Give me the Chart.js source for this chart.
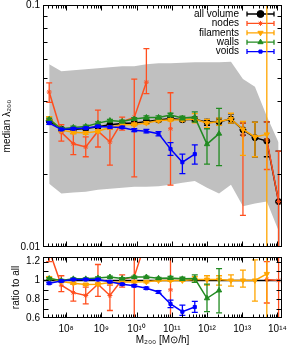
<!DOCTYPE html>
<html>
<head>
<meta charset="utf-8">
<script src="https://cdn.jsdelivr.net/npm/chart.js@4/dist/chart.umd.min.js"></script>
<style>
  html, body { margin: 0; padding: 0; background: #fff; }
  #wrap { position: relative; width: 287px; height: 347px; }
  canvas { position: absolute; left: 0; }
</style>
</head>
<body>
<div id="wrap">
  <canvas id="topc" width="287" height="252" style="top:0"></canvas>
  <canvas id="botc" width="287" height="95" style="top:252px"></canvas>
</div>
<script>
// ---------------- data ----------------
const mass = [3.3e7, 7.3e7, 1.6e8, 3.6e8, 8.0e8, 1.75e9, 3.9e9, 8.6e9, 1.9e10, 4.2e10,
              9.2e10, 2.0e11, 4.5e11, 1.0e12, 2.2e12, 4.8e12, 1.05e13, 2.3e13, 5.0e13, 1.08e14];

const seriesNames = ['all volume', 'nodes', 'filaments', 'walls', 'voids'];

const bandHi = [0.0569,0.0533,0.0538,0.0543,0.0548,0.0553,0.0558,0.0558,0.0569,0.0574,
                0.0574,0.0577,0.0580,0.0580,0.0580,0.0583,0.0494,0.0459,0.0347,0.0270];
const bandLo = [0.01824,0.01662,0.01678,0.01693,0.01725,0.0174,0.01757,0.01774,0.01774,0.01783,
                0.01807,0.01841,0.01876,0.01757,0.01662,0.01807,0.01472,0.01514,0.01543,0.01166];

const allVol   = [0.0332,0.0307,0.0306,0.0309,0.0314,0.0320,0.0324,0.0325,0.0330,0.0335,0.0340,0.0336,0.0337,0.0328,0.0329,0.0338,0.0305,0.0283,0.0274,0.0154];
const allVolLo = [0.0327,0.0303,0.0302,0.0305,0.0310,0.0316,0.0320,0.0320,0.0325,0.0330,0.0334,0.0330,0.0330,0.0318,0.0318,0.0325,0.0290,0.0236,0.0236,0.0098];
const allVolHi = [0.0337,0.0311,0.0310,0.0313,0.0318,0.0324,0.0328,0.0330,0.0335,0.0340,0.0346,0.0342,0.0344,0.0337,0.0340,0.0355,0.0325,0.0328,0.0329,0.0249];

const nodes   = [0.0437,0.0298,0.0267,0.0259,0.0301,0.0272,0.0330,0.0343,0.0480,null,0.0308,null,null,null,null,null,0.0290,null,0.0277,0.0154];
const nodesLo = [0.0396,0.0274,0.0241,0.0236,0.0259,0.0218,0.0304,0.0195,0.0430,null,0.0180,null,null,null,null,null,0.0135,null,0.0209,0.0070];
const nodesHi = [0.0477,0.0320,0.0294,0.0285,0.0368,0.0306,0.0344,0.0494,0.0660,null,0.0434,null,null,null,null,null,0.0325,null,0.0329,0.0249];

const fil   = [0.0341,0.0304,0.0298,0.0296,0.0301,0.0312,0.0320,0.0321,0.0325,0.0333,0.0335,0.0336,0.0338,0.0325,0.0330,0.0338,0.0306,0.0285,0.0292,null];
const filLo = [0.0336,0.0300,0.0294,0.0292,0.0297,0.0308,0.0316,0.0317,0.0321,0.0329,0.0331,0.0331,0.0326,0.0311,0.0318,0.0325,0.0239,0.0236,0.0050,null];
const filHi = [0.0346,0.0308,0.0302,0.0300,0.0305,0.0316,0.0324,0.0325,0.0329,0.0337,0.0339,0.0341,0.0356,0.0337,0.0341,0.0357,0.0330,0.0328,0.2000,null];

const walls   = [0.0337,0.0308,0.0312,0.0315,0.0325,0.0333,0.0330,0.0338,0.0343,0.0343,0.0351,0.0341,0.0344,0.0266,0.0294,null,null,null,null,null];
const wallsLo = [0.0333,0.0304,0.0308,0.0311,0.0321,0.0329,0.0326,0.0334,0.0338,0.0338,0.0345,0.0335,0.0328,0.0220,0.0217,null,null,null,null,null];
const wallsHi = [0.0341,0.0312,0.0316,0.0319,0.0329,0.0337,0.0334,0.0342,0.0348,0.0348,0.0357,0.0347,0.0362,0.0308,0.0374,null,null,null,null,null];

const voids   = [0.0325,0.0306,0.0308,0.0310,0.0315,0.0313,0.0312,0.0304,0.0301,0.0294,0.0254,0.0224,0.0242,null,null,null,null,null,null,null];
const voidsLo = [0.0321,0.0303,0.0305,0.0307,0.0312,0.0310,0.0309,0.0300,0.0296,0.0288,0.0239,0.0201,0.0220,null,null,null,null,null,null,null];
const voidsHi = [0.0329,0.0309,0.0311,0.0313,0.0318,0.0316,0.0315,0.0308,0.0306,0.0300,0.0270,0.0242,0.0264,null,null,null,null,null,null,null];

// ratio to all volume
const nodesR   = [1.32,0.95,0.87,0.84,0.96,0.84,1.01,1.04,1.44,null,0.90,null,null,null,null,null,null,null,1.01,1.00];
const nodesRLo = [1.20,0.88,0.78,0.75,0.83,0.68,0.93,0.58,1.30,null,0.53,null,null,null,null,null,null,null,0.76,0.45];
const nodesRHi = [1.45,1.05,0.96,0.93,1.17,0.95,1.06,1.52,1.98,null,1.28,null,null,null,null,null,null,null,1.20,1.62];

const filR   = [1.027,0.990,0.970,0.957,0.960,0.977,0.984,0.984,0.985,1.000,1.000,1.000,1.010,1.010,1.010,1.000,1.000,1.000,1.070,null];
const filRLo = [1.015,0.980,0.960,0.947,0.950,0.967,0.974,0.974,0.975,0.990,0.990,0.990,0.980,0.950,0.950,0.940,0.930,0.780,0.100,null];
const filRHi = [1.039,1.000,0.980,0.967,0.970,0.987,0.994,0.994,0.995,1.010,1.010,1.010,1.040,1.050,1.050,1.060,1.110,1.220,5.000,null];

const wallsR   = [1.020,1.000,1.017,1.017,1.027,1.037,1.020,1.037,1.037,1.023,1.027,1.017,1.020,0.810,0.894,null,null,null,null,null];
const wallsRLo = [1.010,0.990,1.007,1.007,1.017,1.027,1.010,1.027,1.027,1.013,1.012,1.000,0.980,0.667,0.654,null,null,null,null,null];
const wallsRHi = [1.030,1.010,1.027,1.027,1.037,1.047,1.030,1.047,1.047,1.033,1.042,1.034,1.060,0.960,1.127,null,null,null,null,null];

const voidsR   = [0.970,0.994,1.010,1.010,1.010,0.987,0.960,0.944,0.917,0.877,0.750,0.667,0.717,null,null,null,null,null,null,null];
const voidsRLo = [0.960,0.985,1.000,1.000,1.000,0.977,0.950,0.933,0.905,0.862,0.710,0.627,0.660,null,null,null,null,null,null,null];
const voidsRHi = [0.980,1.003,1.020,1.020,1.020,0.997,0.970,0.955,0.929,0.892,0.790,0.737,0.777,null,null,null,null,null,null,null];

// tick labels
const xTickVals   = [1e8, 1e9, 1e10, 1e11, 1e12, 1e13, 1e14];
const xTickLabels = ['10⁸', '10⁹', '10¹⁰', '10¹¹', '10¹²', '10¹³', '10¹⁴'];
const yTopTickVals   = [0.01, 0.1];
const yTopTickLabels = ['0.01', '0.1'];
const yBotTickVals   = [0.6, 0.8, 1, 1.2];
const yBotTickLabels = ['0.6', '0.8', '1', '1.2'];

// ---------------- styling / setup ----------------
const XMIN = 2.2e7, XMAX = 1.35e14;
const COL = { all: '#000000', nodes: '#ff4f1f', fil: '#ffa500', walls: '#228b22', voids: '#0000ff', band: '#c0c0c0' };
Chart.defaults.font.family = '"Liberation Sans", Arial, sans-serif';
Chart.defaults.font.size = 10;
Chart.defaults.color = '#000';

function near(a, b) { return Math.abs(a - b) <= 1e-9 * Math.max(Math.abs(a), Math.abs(b)); }
function labelFrom(vals, labels, v) { const i = vals.findIndex(t => near(t, v)); return i >= 0 ? labels[i] : ''; }

const xMinor = [];
for (let e = 7; e <= 14; e++) for (let k = 1; k <= 9; k++) { const v = k * Math.pow(10, e); if (v >= XMIN && v <= XMAX) xMinor.push(v); }
const yTopMinor = [];
for (let k = 1; k <= 10; k++) yTopMinor.push(k / 100);
const yBotMinor = [0.6, 0.7, 0.8, 0.9, 1.0, 1.1, 1.2];

function pts(vals) { return mass.map((m, i) => ({ x: m, y: vals[i] })); }

function series(label, vals, lo, hi, color, style, radius, rot, order) {
  return {
    label, data: pts(vals), errLo: lo, errHi: hi,
    borderColor: color, backgroundColor: color, borderWidth: 1.5,
    pointStyle: style, pointRadius: radius, pointRotation: rot || 0,
    pointBackgroundColor: color, pointBorderColor: color, pointBorderWidth: 1,
    fill: false, tension: 0, spanGaps: false, order
  };
}

// error bars drawn through the chart scales
const errPlugin = {
  id: 'errbars',
  beforeDatasetDraw(chart, args) {
    const ds = chart.data.datasets[args.index];
    if (!ds.errLo) return;
    const xs = chart.scales.x, ys = chart.scales.y, a = chart.chartArea, ctx = chart.ctx;
    ctx.save();
    ctx.beginPath(); ctx.rect(a.left, a.top, a.right - a.left, a.bottom - a.top); ctx.clip();
    ctx.strokeStyle = ds.borderColor; ctx.lineWidth = 1.3;
    ds.data.forEach((p, i) => {
      if (p.y == null || ds.errLo[i] == null) return;
      const x = xs.getPixelForValue(p.x);
      const y1 = ys.getPixelForValue(ds.errLo[i]);
      const y2 = ys.getPixelForValue(ds.errHi[i]);
      ctx.beginPath();
      ctx.moveTo(x, y1); ctx.lineTo(x, y2);
      ctx.moveTo(x - 3, y1); ctx.lineTo(x + 3, y1);
      ctx.moveTo(x - 3, y2); ctx.lineTo(x + 3, y2);
      ctx.stroke();
    });
    ctx.restore();
  }
};

// frame with inward ticks on all sides
function makeFrame(yMinorVals, yMajorVals) {
  return {
    id: 'frame',
    afterDatasetsDraw(chart) {
      const { ctx, chartArea: a } = chart;
      const xs = chart.scales.x, ys = chart.scales.y;
      const L = Math.round(a.left) + 0.5, R = Math.round(a.right) - 0.5;
      const T = Math.round(a.top) + 0.5, B = Math.round(a.bottom) - 0.5;
      ctx.save();
      ctx.strokeStyle = '#000'; ctx.lineWidth = 1;
      ctx.beginPath();
      xMinor.forEach(v => {
        const x = Math.round(xs.getPixelForValue(v)) + 0.5;
        if (x <= L || x >= R) return;
        const len = xTickVals.some(t => near(t, v)) ? 5 : 3;
        ctx.moveTo(x, B); ctx.lineTo(x, B - len);
        ctx.moveTo(x, T); ctx.lineTo(x, T + len);
      });
      yMinorVals.forEach(v => {
        const y = Math.round(ys.getPixelForValue(v)) + 0.5;
        if (y <= T || y >= B) return;
        const len = yMajorVals.some(t => near(t, v)) ? 5 : 4;
        ctx.moveTo(L, y); ctx.lineTo(L + len, y);
        ctx.moveTo(R, y); ctx.lineTo(R - len, y);
      });
      ctx.stroke();
      ctx.strokeRect(L, T, R - L, B - T);
      ctx.restore();
    }
  };
}

function drawMarker(ctx, style, r, rot, color, x, y) {
  ctx.save();
  ctx.fillStyle = color; ctx.strokeStyle = color; ctx.lineWidth = 1;
  Chart.helpers.drawPoint(ctx, { pointStyle: style, radius: r, rotation: rot, borderWidth: 1 }, x, y);
  ctx.restore();
}

const legendStyles = [
  { color: COL.all, style: 'circle', r: 3.5, rot: 0 },
  { color: COL.nodes, style: 'star', r: 2.5, rot: 0 },
  { color: COL.fil, style: 'triangle', r: 3, rot: 180 },
  { color: COL.walls, style: 'triangle', r: 3, rot: 0 },
  { color: COL.voids, style: 'rect', r: 2.2, rot: 0 }
];
const legendPlugin = {
  id: 'keybox',
  beforeDatasetsDraw(chart) {
    const ctx = chart.ctx;
    ctx.save();
    ctx.font = '10px "Liberation Sans", Arial, sans-serif';
    ctx.textAlign = 'right'; ctx.textBaseline = 'middle';
    seriesNames.forEach((name, i) => {
      const y = 14 + i * 9.4;
      const s = legendStyles[i];
      ctx.fillStyle = '#000';
      ctx.fillText(name, 239, y);
      ctx.strokeStyle = s.color; ctx.lineWidth = 1.3;
      ctx.beginPath();
      ctx.moveTo(247, y); ctx.lineTo(274, y);
      ctx.moveTo(247, y - 2.5); ctx.lineTo(247, y + 2.5);
      ctx.moveTo(274, y - 2.5); ctx.lineTo(274, y + 2.5);
      ctx.stroke();
      drawMarker(ctx, s.style, s.r, s.rot, s.color, 260.5, y);
    });
    ctx.restore();
  }
};

const baseOpts = {
  responsive: false, animation: false, devicePixelRatio: 1, events: [],
  plugins: { legend: { display: false }, tooltip: { enabled: false } }
};

// ---------------- top panel ----------------
new Chart(document.getElementById('topc'), {
  type: 'line',
  data: {
    datasets: [
      { label: 'spread hi', data: pts(bandHi), borderWidth: 0, borderColor: 'rgba(0,0,0,0)', pointRadius: 0, fill: '+1', backgroundColor: COL.band, order: 10 },
      { label: 'spread lo', data: pts(bandLo), borderWidth: 0, borderColor: 'rgba(0,0,0,0)', pointRadius: 0, fill: false, order: 9 },
      series('all volume', allVol, allVolLo, allVolHi, COL.all, 'circle', 3, 0, 5),
      series('nodes', nodes, nodesLo, nodesHi, COL.nodes, 'star', 2.5, 0, 4),
      series('filaments', fil, filLo, filHi, COL.fil, 'triangle', 3, 180, 3),
      series('walls', walls, wallsLo, wallsHi, COL.walls, 'triangle', 3, 0, 2),
      series('voids', voids, voidsLo, voidsHi, COL.voids, 'rect', 2.2, 0, 1)
    ]
  },
  options: Object.assign({}, baseOpts, {
    layout: { padding: { top: 4, right: 2, bottom: 0, left: 0 } },
    scales: {
      x: {
        type: 'logarithmic', min: XMIN, max: XMAX,
        grid: { display: false, drawTicks: false }, border: { display: false },
        ticks: { display: false },
        afterBuildTicks: s => { s.ticks = xMinor.map(v => ({ value: v })); },
        afterFit: s => { s.height = 0; s.paddingLeft = 0; s.paddingRight = 0; }
      },
      y: {
        type: 'logarithmic', min: 0.01, max: 0.1, position: 'left',
        grid: { display: false, drawTicks: false }, border: { display: false },
        ticks: { padding: 3, autoSkip: false, color: '#000', font: { size: 10 },
                 callback: v => labelFrom(yTopTickVals, yTopTickLabels, v) },
        afterBuildTicks: s => { s.ticks = yTopMinor.map(v => ({ value: v })); },
        afterFit: s => { s.width = 43; s.paddingTop = 0; s.paddingBottom = 0; },
        title: { display: true, text: 'median λ₂₀₀', color: '#000', font: { size: 10 }, padding: { top: 1, bottom: 0 } }
      }
    }
  }),
  plugins: [legendPlugin, errPlugin, makeFrame(yTopMinor, yTopTickVals)]
});

// ---------------- ratio panel ----------------
new Chart(document.getElementById('botc'), {
  type: 'line',
  data: {
    datasets: [
      { label: 'all volume', data: [{ x: XMIN, y: 1 }, { x: XMAX, y: 1 }], borderColor: COL.all, borderWidth: 1.5, pointRadius: 0, fill: false, order: 5 },
      series('nodes', nodesR, nodesRLo, nodesRHi, COL.nodes, 'star', 2.5, 0, 4),
      series('filaments', filR, filRLo, filRHi, COL.fil, 'triangle', 3, 180, 3),
      series('walls', wallsR, wallsRLo, wallsRHi, COL.walls, 'triangle', 3, 0, 2),
      series('voids', voidsR, voidsRLo, voidsRHi, COL.voids, 'rect', 2.2, 0, 1)
    ]
  },
  options: Object.assign({}, baseOpts, {
    layout: { padding: { top: 1, right: 2, bottom: 0, left: 0 } },
    scales: {
      x: {
        type: 'logarithmic', min: XMIN, max: XMAX,
        grid: { display: false, drawTicks: false }, border: { display: false },
        ticks: { padding: 5, autoSkip: false, maxRotation: 0, color: '#000', font: { size: 10 },
                 callback: v => labelFrom(xTickVals, xTickLabels, v) },
        afterBuildTicks: s => { s.ticks = xMinor.map(v => ({ value: v })); },
        afterFit: s => { s.height = 29; s.paddingLeft = 0; s.paddingRight = 0; },
        title: { display: true, text: 'M₂₀₀ [M⊙/h]', color: '#000', font: { size: 10 }, padding: { top: 0, bottom: 1 } }
      },
      y: {
        type: 'linear', min: 0.6, max: 1.25, position: 'left',
        grid: { display: false, drawTicks: false }, border: { display: false },
        ticks: { padding: 3, autoSkip: false, color: '#000', font: { size: 10 },
                 callback: v => labelFrom(yBotTickVals, yBotTickLabels, v) },
        afterBuildTicks: s => { s.ticks = yBotMinor.map(v => ({ value: v })); },
        afterFit: s => { s.width = 43; s.paddingTop = 0; s.paddingBottom = 0; },
        title: { display: true, text: 'ratio to all', color: '#000', font: { size: 10 }, padding: { top: 10, bottom: 0 } }
      }
    }
  }),
  plugins: [errPlugin, makeFrame(yBotMinor, yBotMinor)]
});
</script>
</body>
</html>
